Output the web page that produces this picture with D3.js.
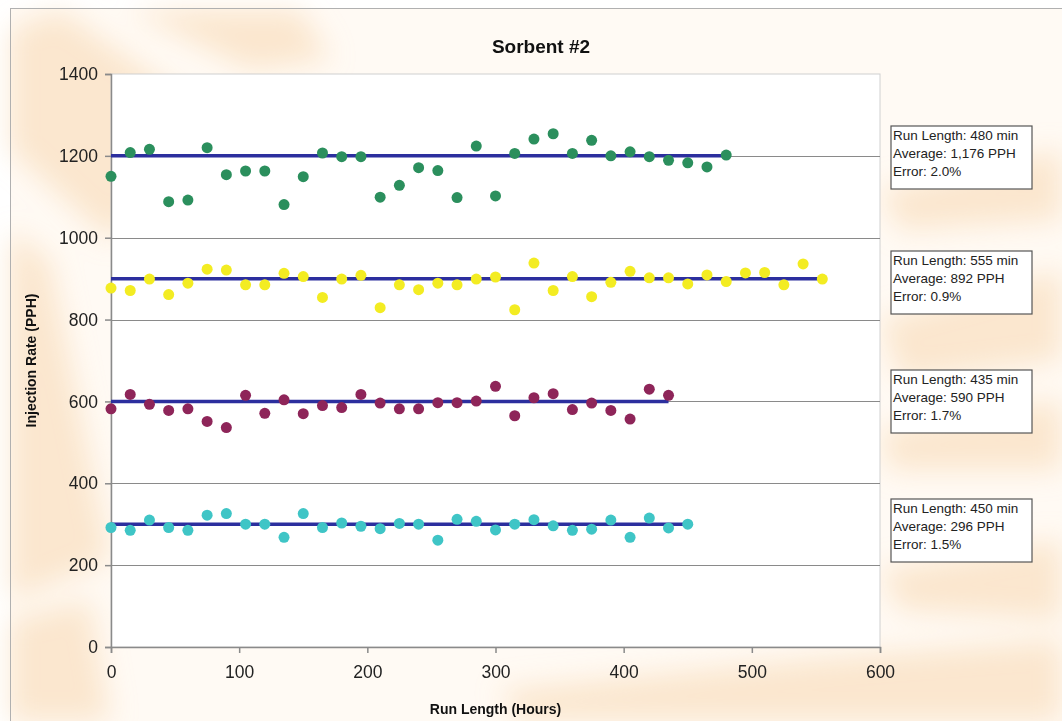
<!DOCTYPE html>
<html>
<head>
<meta charset="utf-8">
<script src="https://cdn.jsdelivr.net/npm/d3@7"></script>
<style>
  body { margin: 0; background: #ffffff; }
  svg { display: block; font-family: "Liberation Sans", Arial, sans-serif; }
</style>
</head>
<body>
<div id="chart"></div>
<script>

// ---------------------------------------------------------------------------
// DATA - one reading every 15 hours
// ---------------------------------------------------------------------------
var step = 15;

var greenValues = [1150, 1208, 1216, 1088, 1092, 1220, 1154, 1163, 1163, 1081, 1149, 1207, 1198,
    1198, 1099, 1128, 1171, 1164, 1098, 1224, 1102, 1206, 1241, 1254, 1206, 1238, 1200, 1210,
    1198, 1189, 1183, 1173, 1202];
var yellowValues = [877, 871, 899, 861, 889, 923, 921, 885, 885, 913, 905, 854, 899, 908, 829,
    885, 873, 889, 885, 899, 904, 824, 938, 871, 905, 856, 891, 918, 902, 902, 887, 909, 893,
    914, 915, 885, 936, 899];
var purpleValues = [582, 617, 593, 578, 582, 551, 536, 615, 571, 604, 570, 590, 585, 617, 596,
    582, 582, 597, 597, 601, 637, 565, 609, 619, 580, 596, 578, 557, 630, 615];
var cyanValues = [292, 285, 310, 292, 285, 322, 326, 300, 300, 268, 326, 292, 303, 295, 289,
    302, 300, 261, 312, 307, 286, 300, 311, 296, 285, 288, 310, 268, 315, 291, 300];

var seriesColors = ["#2b8f5d", "#f3ec22", "#8e2559", "#3fc5c6"];
var targetValues = [1200, 900, 600, 300];
var runLengths = [480, 555, 435, 450];
var averages = ["1,176", "892", "590", "296"];
var errors = ["2.0%", "0.9%", "1.7%", "1.5%"];

var xTicks = [0, 100, 200, 300, 400, 500, 600];
var yTicks = [0, 200, 400, 600, 800, 1000, 1200, 1400];

var allSeries = [greenValues, yellowValues, purpleValues, cyanValues];

// ---------------------------------------------------------------------------
// SVG + background
// ---------------------------------------------------------------------------
var W = 1062, H = 721;
var svg = d3.select("#chart").append("svg")
    .attr("width", W)
    .attr("height", H);

var defs = svg.append("defs");
defs.append("filter").attr("id", "blur")
    .attr("x", "-50%").attr("y", "-50%").attr("width", "200%").attr("height", "200%")
    .append("feGaussianBlur").attr("stdDeviation", 14);

// slide frame
svg.append("rect")
    .attr("x", 10).attr("y", 9)
    .attr("width", W - 10).attr("height", H - 9)
    .attr("fill", "#fffaf4");

// soft diagonal peach streaks of the slide template
var streaks = svg.append("g").attr("filter", "url(#blur)");
var streakShapes = [
    [[10, 30], [60, 10], [230, 130], [110, 240], [10, 150]],
    [[130, 10], [300, 10], [330, 60], [250, 70]],
    [[10, 230], [50, 260], [110, 560], [10, 600]],
    [[10, 620], [90, 600], [110, 721], [10, 721]],
    [[880, 320], [1062, 270], [1062, 360], [900, 380]],
    [[880, 430], [1062, 400], [1062, 470], [890, 470]],
    [[880, 570], [1062, 540], [1062, 620], [900, 610]],
    [[500, 690], [800, 660], [1062, 640], [1062, 721], [520, 721]],
    [[880, 190], [1062, 150], [1062, 220], [900, 230]]
];
streaks.selectAll("path")
    .data(streakShapes)
    .enter().append("path")
    .attr("d", function(d) { return "M" + d.join("L") + "Z"; })
    .attr("fill", "#f8d4aa")
    .attr("opacity", 0.5);

svg.append("line").attr("x1", 10).attr("x2", W).attr("y1", 8.5).attr("y2", 8.5)
    .attr("stroke", "#b0b0b0");
svg.append("line").attr("x1", 10.5).attr("x2", 10.5).attr("y1", 8).attr("y2", H)
    .attr("stroke", "#b0b0b0");

// ---------------------------------------------------------------------------
// SCALES + AXES
// ---------------------------------------------------------------------------
var margin = {left: 111, right: 182, top: 74, bottom: 74};
var width = W - margin.left - margin.right,    // 769
    height = H - margin.top - margin.bottom;   // 573

var x = d3.scaleLinear().domain([0, 600]).range([0, width]);
var y = d3.scaleLinear().domain([0, 1400]).range([height, 0]);

var g = svg.append("g")
    .attr("transform", "translate(" + margin.left + "," + margin.top + ")");

// white plot area
g.append("rect")
    .attr("width", width).attr("height", height)
    .attr("fill", "#ffffff")
    .attr("stroke", "#d0d0d0");

// gridlines
g.append("g")
    .selectAll("line")
    .data(yTicks.filter(function(d) { return d > 0 && d < 1400; }))
    .enter().append("line")
    .attr("x1", 0).attr("x2", width)
    .attr("y1", function(d) { return Math.round(y(d)) + 0.5; })
    .attr("y2", function(d) { return Math.round(y(d)) + 0.5; })
    .attr("stroke", "#8a8a8a")
    .attr("stroke-width", 1.2);

var yAxis = g.append("g")
    .call(d3.axisLeft(y).tickValues(yTicks).tickSize(6).tickPadding(7).tickFormat(d3.format("d")));
var xAxis = g.append("g")
    .attr("transform", "translate(0," + height + ")")
    .call(d3.axisBottom(x).tickValues(xTicks).tickSize(6).tickPadding(13).tickFormat(d3.format("d")));

[xAxis, yAxis].forEach(function(a) {
    a.select(".domain").attr("stroke", "#8a8a8a").attr("stroke-width", 1.5);
    a.selectAll(".tick line").attr("stroke", "#8a8a8a").attr("stroke-width", 1.5);
    a.selectAll(".tick text")
        .attr("fill", "#222")
        .style("font-size", "17.5px")
        .style("font-family", "'Liberation Sans', Arial, sans-serif");
});

// ---------------------------------------------------------------------------
// SERIES: average/target lines + dots
// ---------------------------------------------------------------------------
allSeries.forEach(function(values, i) {

    g.append("line")
        .attr("x1", x(0)).attr("x2", x(runLengths[i]))
        .attr("y1", y(targetValues[i])).attr("y2", y(targetValues[i]))
        .attr("stroke", "#2c2f9e")
        .attr("stroke-width", 3.5);

    g.append("g")
        .selectAll("circle")
        .data(values)
        .enter().append("circle")
        .attr("cx", function(d, j) { return x(j * step); })
        .attr("cy", function(d) { return y(d); })
        .attr("r", 5.5)
        .attr("fill", seriesColors[i]);
});

// ---------------------------------------------------------------------------
// ANNOTATION BOXES
// ---------------------------------------------------------------------------
var boxTops = [126, 251, 370, 499];
boxTops.forEach(function(top, i) {
    var box = svg.append("g").attr("transform", "translate(891," + top + ")");
    box.append("rect")
        .attr("width", 141).attr("height", 63)
        .attr("fill", "#ffffff")
        .attr("stroke", "#555")
        .attr("stroke-width", 1.2);
    var lines = ["Run Length: " + runLengths[i] + " min",
                 "Average: " + averages[i] + " PPH",
                 "Error: " + errors[i]];
    box.selectAll("text")
        .data(lines)
        .enter().append("text")
        .attr("x", 2)
        .attr("y", function(d, j) { return 14 + j * 18; })
        .attr("fill", "#222")
        .style("font-size", "13.5px")
        .text(function(d) { return d; });
});

// ---------------------------------------------------------------------------
// TITLES
// ---------------------------------------------------------------------------
svg.append("text")
    .attr("x", 541).attr("y", 53)
    .attr("text-anchor", "middle")
    .style("font-size", "19px").style("font-weight", "bold")
    .attr("fill", "#111")
    .text("Sorbent #2");

svg.append("text")
    .attr("x", margin.left + width / 2).attr("y", 714)
    .attr("text-anchor", "middle")
    .style("font-size", "14px").style("font-weight", "bold")
    .attr("fill", "#111")
    .text("Run Length (Hours)");

svg.append("text")
    .attr("transform", "translate(36," + (margin.top + height / 2) + ") rotate(-90)")
    .attr("text-anchor", "middle")
    .style("font-size", "14px").style("font-weight", "bold")
    .attr("fill", "#111")
    .text("Injection Rate (PPH)");

</script>
</body>
</html>
